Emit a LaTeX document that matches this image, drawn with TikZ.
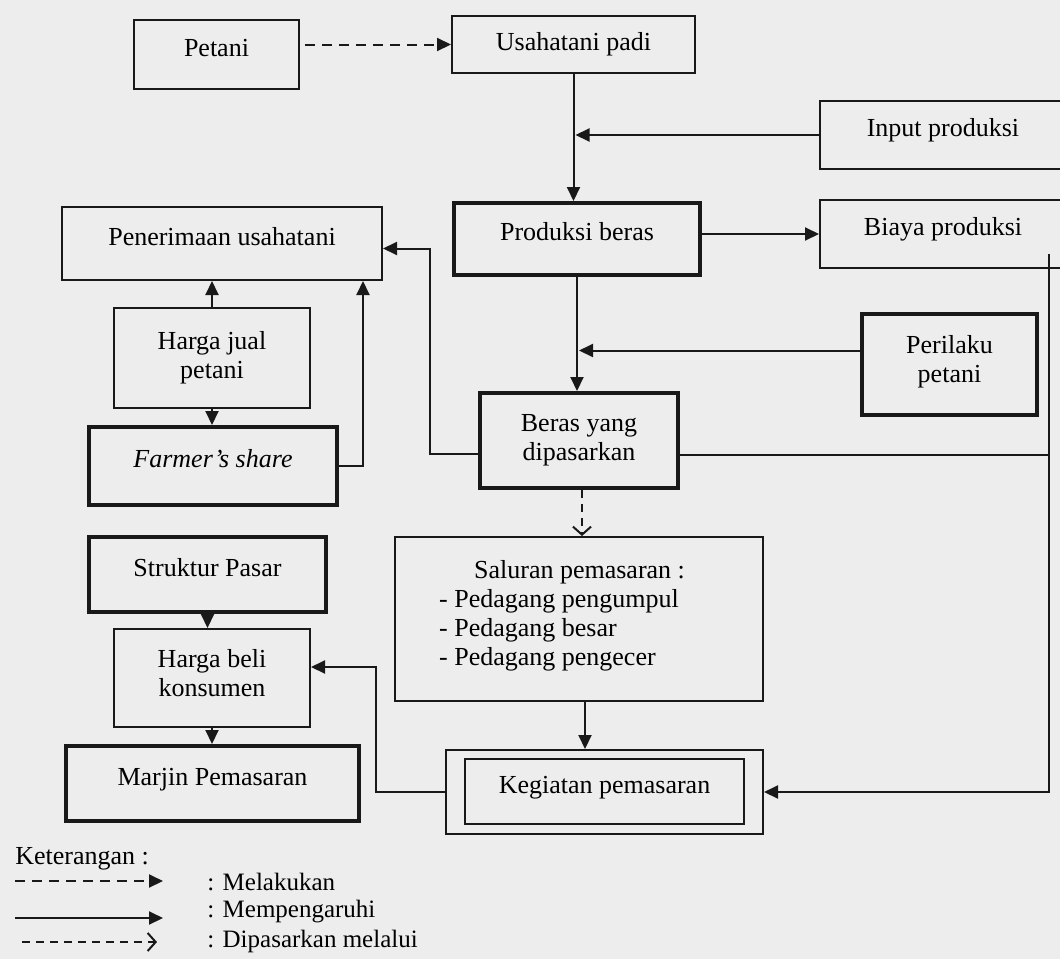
\documentclass[tikz,border=0pt]{standalone}
\usepackage{fontspec}
\setmainfont{Liberation Serif}
\usetikzlibrary{arrows.meta}
\usetikzlibrary{calc}
\colorlet{scanbg}{black!7}
\colorlet{ink}{black!90}

\begin{document}
\begin{tikzpicture}[x=0.5pt,y=-0.5pt,
    kotak/.style={draw=ink,line width=1pt,align=center,inner sep=0pt,
      font=\fontsize{13}{14.5}\selectfont},
    kotaktebal/.style={kotak,line width=2pt},
    satubaris/.style={text height=9pt,text depth=7.5pt},
    pengaruh/.style={draw=ink,line width=1pt,-{Triangle[length=7pt,width=6.5pt]}},
    melakukan/.style={pengaruh,dash pattern=on 5pt off 3.5pt},
    melalui/.style={draw=ink,line width=1pt,dash pattern=on 4pt off 3pt,
      -{Straight Barb[length=4pt,width=9pt]}}]
    % Background
    \useasboundingbox (0,0) rectangle (1060,959);
    \clip (0,0) rectangle (1060,959);
    \fill[scanbg] (0,0) rectangle (1060,959);
    % Boxes
    \node[kotak,satubaris,minimum width=82.5pt,minimum height=34.5pt] (petani) at (216.5,54.5) {Petani};
    \node[kotak,minimum width=121.5pt,minimum height=28.5pt] (usaha) at (573.5,44.5) {Usahatani padi};
    \node[kotak,satubaris,minimum width=123pt,minimum height=34pt] (input) at (943,135) {Input produksi};
    \node[kotak,satubaris,minimum width=123pt,minimum height=34pt] (biaya) at (943,234) {Biaya produksi};
    \node[kotaktebal,satubaris,minimum width=123pt,minimum height=36pt] (produksi) at (577,239) {Produksi beras};
    \node[kotaktebal,minimum width=87.5pt,minimum height=50.5pt] (perilaku) at (949.5,364.5) {Perilaku\\petani\rule[-6pt]{0pt}{0pt}};
    \node[kotak,satubaris,minimum width=160pt,minimum height=36.5pt] (penerimaan) at (222,243.5) {Penerimaan usahatani};
    \node[kotak,minimum width=98pt,minimum height=50pt] (hargajual) at (212,358) {Harga jual\\petani};
    \node[kotaktebal,satubaris,minimum width=124pt,minimum height=39pt] (farmer) at (213,466) {\itshape Farmer's share};
    \node[kotaktebal,satubaris,minimum width=118.5pt,minimum height=37.5pt] (struktur) at (207.5,574.5) {Struktur Pasar};
    \node[kotak,minimum width=98pt,minimum height=49pt] (hargabeli) at (212,678) {Harga beli\\konsumen\rule[-5pt]{0pt}{0pt}};
    \node[kotaktebal,satubaris,minimum width=146.5pt,minimum height=37.5pt] (marjin) at (212.5,783.5) {Marjin Pemasaran};
    \node[kotaktebal,minimum width=99pt,minimum height=47.5pt] (beras) at (579,440.5) {Beras yang\\dipasarkan};
    \node[kotak,minimum width=184pt,minimum height=82pt,align=left] (saluran) at (579,619)
      {\hspace*{17.5pt}Saluran pemasaran :\\- Pedagang pengumpul\rule{20pt}{0pt}\\- Pedagang besar\\- Pedagang pengecer\rule[-6pt]{0pt}{0pt}};
    \node[kotak,satubaris,minimum width=158.5pt,minimum height=42pt] (kegiatan) at (604.5,792) {Kegiatan pemasaran};
    \draw[ink,line width=1pt] ($(kegiatan.south west)+(20,-11)$) rectangle ($(kegiatan.north east)+(-20,10)$);
    % Arrows
    \draw[melakukan,shorten <=2.5pt] (petani.east |- usaha.west) -- (usaha.west);
    \draw[pengaruh] (usaha.south) -- (usaha.south |- produksi.north);
    \draw[pengaruh,shorten >=1pt] (input.west) -- (usaha.south |- input.west);
    \draw[pengaruh] (produksi.east |- biaya.west) -- (biaya.west);
    \draw[pengaruh] (produksi.south) -- (produksi.south |- beras.north);
    \draw[pengaruh,shorten >=1pt] ($(perilaku.west)+(0,-14)$) coordinate (p1) -- (p1 -| produksi.south);
    \draw[pengaruh] ($(beras.west)+(0,13)$) -| ($(penerimaan.east)+(47,5)$) -- ($(penerimaan.east)+(0,5)$);
    \coordinate (atas) at ($(biaya.south east)+(-18,-15)$);
    \draw[ink,line width=1pt] ($(beras.east)+(0,14)$) coordinate (b1) -- (b1 -| atas);
    \draw[pengaruh] (atas) |- (kegiatan.east);
    \draw[melalui] ([xshift=1.5pt]beras.south) -- ([xshift=1.5pt]beras.south |- saluran.north);
    \draw[pengaruh] ([xshift=3pt]saluran.south) -- ([xshift=3pt]saluran.south |- kegiatan.north);
    \draw[pengaruh] (kegiatan.west) -| ($(hargabeli.east)+(65,-11)$) -- ($(hargabeli.east)+(0,-11)$);
    \draw[pengaruh] (hargajual.north) -- (hargajual.north |- penerimaan.south);
    \draw[pengaruh] (hargajual.south) -- (hargajual.south |- farmer.north);
    \draw[pengaruh] (farmer.east) -| ($(penerimaan.south east)+(-20,0)$);
    \draw[pengaruh] (struktur.south) -- (struktur.south |- hargabeli.north);
    \draw[pengaruh] (hargabeli.south) -- (hargabeli.south |- marjin.north);
    % Legend
    \node[anchor=west,inner sep=0pt,font=\fontsize{13}{14.5}\selectfont] (ket) at (15,859) {Keterangan :};
    \coordinate (l1a) at (15,881);  \coordinate (l1b) at (163,881);
    \coordinate (l2a) at (15,918);  \coordinate (l2b) at (163,918);
    \coordinate (l3a) at (22,942);  \coordinate (l3b) at (157,942);
    \draw[melakukan] (l1a) -- (l1b);
    \draw[pengaruh] (l2a) -- (l2b);
    \draw[melalui] (l3a) -- (l3b);
    \node[anchor=west,inner sep=0pt,font=\fontsize{12.5}{14}\selectfont] (ket1) at (207,882) {: Melakukan};
    \node[anchor=west,inner sep=0pt,font=\fontsize{12.5}{14}\selectfont] (ket2) at (207,912) {: Mempengaruhi};
    \node[anchor=west,inner sep=0pt,font=\fontsize{12.5}{14}\selectfont] (ket3) at (207,941) {: Dipasarkan melalui};
\end{tikzpicture}
\end{document}
